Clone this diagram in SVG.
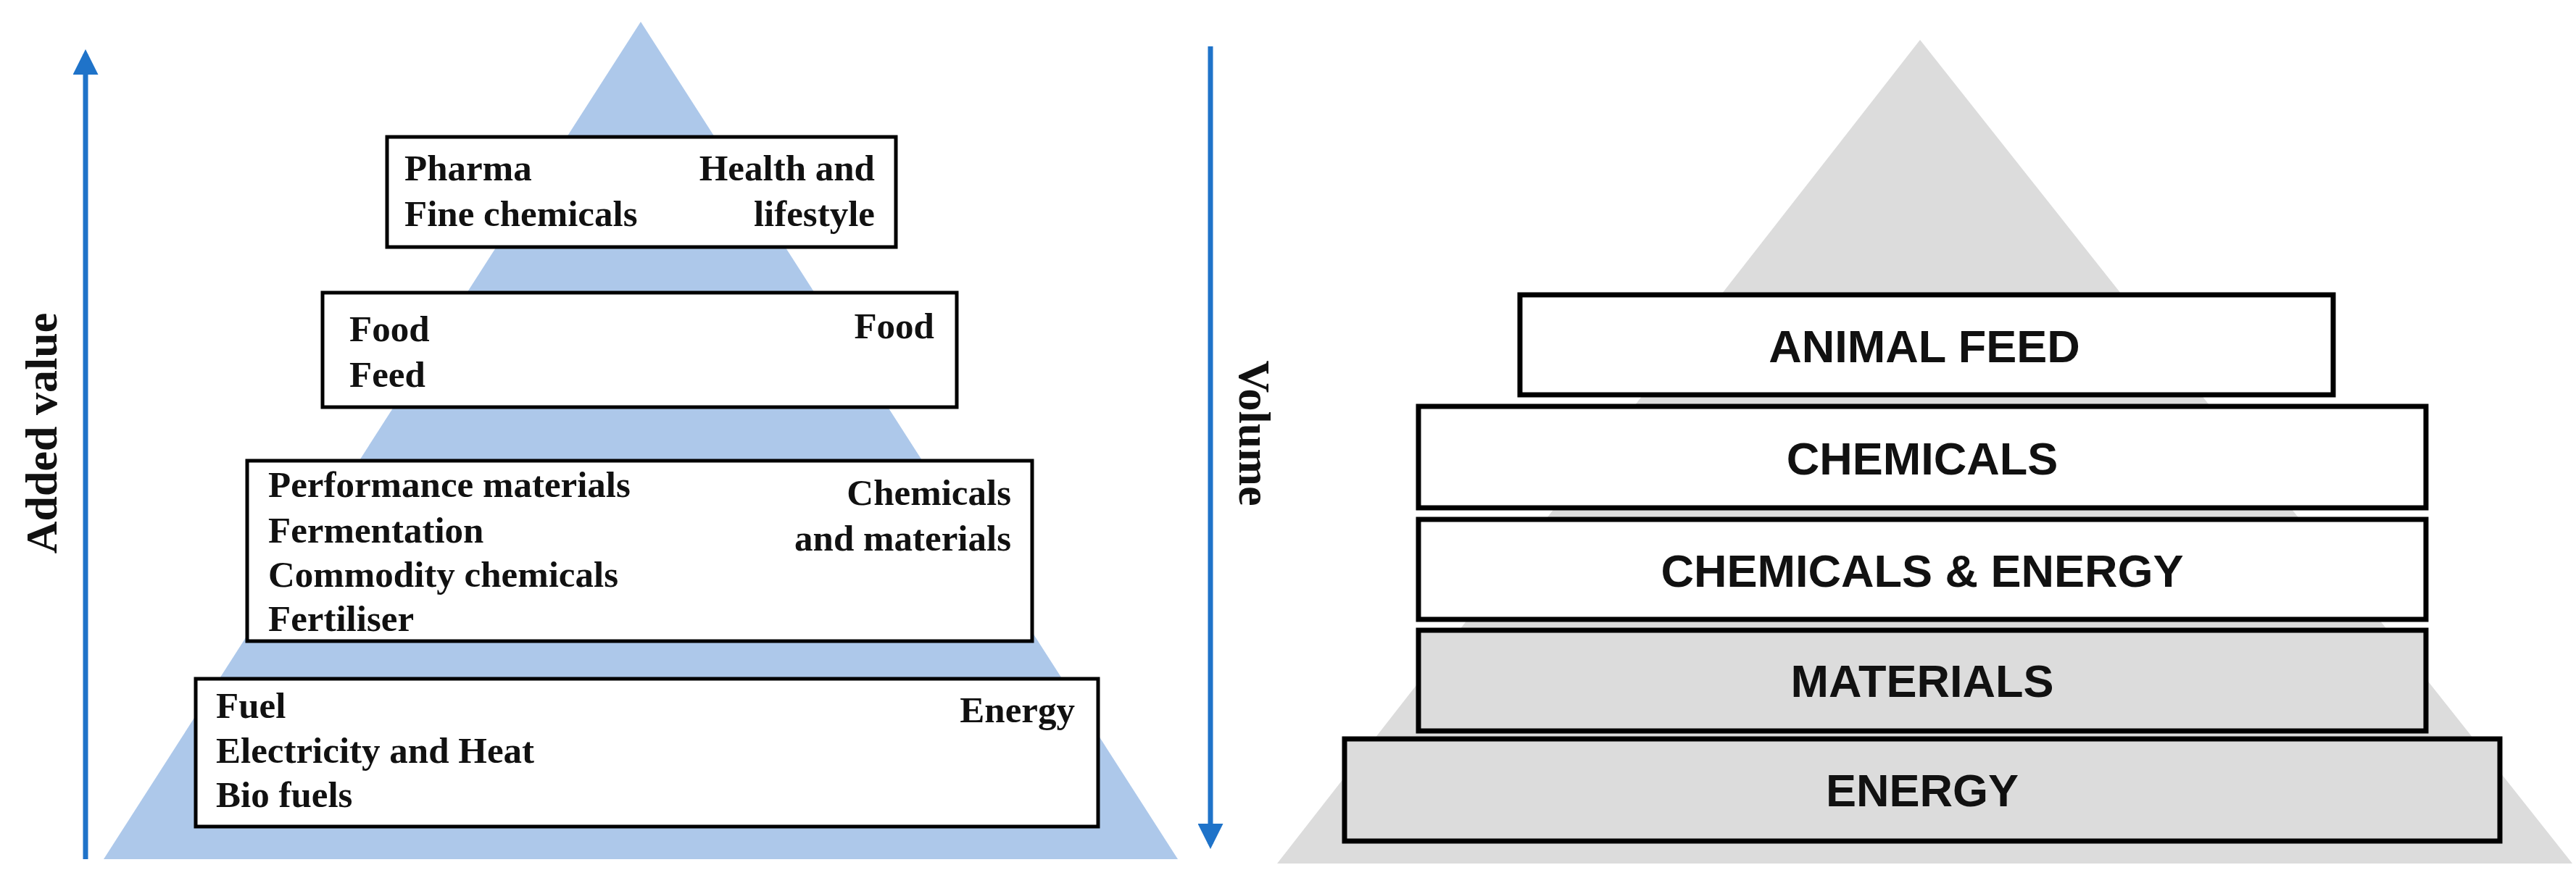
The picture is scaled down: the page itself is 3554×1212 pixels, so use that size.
<svg xmlns="http://www.w3.org/2000/svg" width="3554" height="1212" viewBox="0 0 3554 1212">
<style>
.bx{fill:#fff;stroke:#000;stroke-width:5}
.gb{fill:#fff;stroke:#000;stroke-width:7}
.gg{fill:#dcdcdc;stroke:#000;stroke-width:7}
.t{font-family:"Liberation Serif",serif;font-weight:bold;font-size:51px;fill:#111}
.r{text-anchor:end}
.s{font-family:"Liberation Sans",sans-serif;font-weight:bold;font-size:63px;fill:#111;text-anchor:middle}
.ax{font-family:"Liberation Serif",serif;font-weight:bold;font-size:62px;fill:#111;text-anchor:middle}
</style>
<defs>
<marker id="ah" markerWidth="5" markerHeight="5" refX="4" refY="2.5" orient="auto" markerUnits="strokeWidth"><path d="M0,0 L5,2.5 L0,5 z" fill="#1f73c9"/></marker>
</defs>
<rect width="3554" height="1212" fill="#fff"/>
<polygon points="884,30 1625,1186 143,1186" fill="#adc8ea"/>
<polygon points="2649,55 3549,1192 1762,1192" fill="#dcdcdc"/>
<g id="connectors" stroke="#1f73c9" stroke-width="7">
<line x1="118" y1="1186" x2="118" y2="75" marker-end="url(#ah)"/>
<line x1="1670" y1="64" x2="1670" y2="1165" marker-end="url(#ah)"/>
</g>
<text class="ax" transform="translate(78,598) rotate(-90)">Added value</text>
<text class="ax" font-size="58" transform="translate(1710,598) rotate(90)">Volume</text>
<g id="box1"><rect class="bx" x="534" y="189" width="702" height="152"/>
<text class="t" x="558" y="249">Pharma</text><text class="t" x="558" y="312">Fine chemicals</text>
<text class="t r" x="1207" y="249">Health and</text><text class="t r" x="1207" y="312">lifestyle</text></g>
<g id="box2"><rect class="bx" x="445" y="404" width="875" height="158"/>
<text class="t" x="482" y="471">Food</text><text class="t" x="482" y="534">Feed</text>
<text class="t r" x="1289" y="467">Food</text></g>
<g id="box3"><rect class="bx" x="341" y="636" width="1083" height="249"/>
<text class="t" x="370" y="686">Performance materials</text><text class="t" x="370" y="749">Fermentation</text>
<text class="t" x="370" y="810">Commodity chemicals</text><text class="t" x="370" y="871">Fertiliser</text>
<text class="t r" x="1395" y="697">Chemicals</text><text class="t r" x="1395" y="760">and materials</text></g>
<g id="box4"><rect class="bx" x="270" y="937" width="1245" height="204"/>
<text class="t" x="298" y="991">Fuel</text><text class="t" x="298" y="1053">Electricity and Heat</text>
<text class="t" x="298" y="1114">Bio fuels</text><text class="t r" x="1483" y="997">Energy</text></g>
<g id="animalfeed"><rect class="gb" x="2097" y="407" width="1122" height="138"/><text class="s" x="2655" y="500">ANIMAL FEED</text></g>
<g id="chemicals"><rect class="gb" x="1957" y="561" width="1390" height="140"/><text class="s" x="2652" y="655">CHEMICALS</text></g>
<g id="chemenergy"><rect class="gb" x="1957" y="717" width="1390" height="138"/><text class="s" x="2652" y="810">CHEMICALS &amp; ENERGY</text></g>
<g id="materials"><rect class="gg" x="1957" y="870" width="1390" height="139"/><text class="s" x="2652" y="962">MATERIALS</text></g>
<g id="energy"><rect class="gg" x="1855" y="1020" width="1594" height="141"/><text class="s" x="2652" y="1113">ENERGY</text></g>
</svg>
